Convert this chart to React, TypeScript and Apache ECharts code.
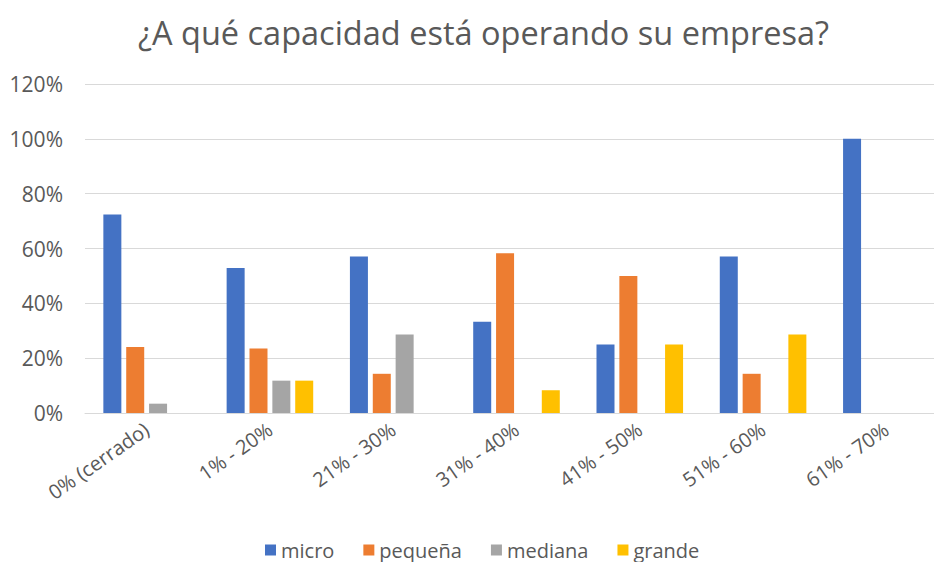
import React, { useEffect, useRef } from "react";
import * as echarts from "echarts";

const categories = ["0% (cerrado)", "1% - 20%", "21% - 30%", "31% - 40%", "41% - 50%", "51% - 60%", "61% - 70%"];
const seriesNames = ["micro", "pequeña", "mediana", "grande"];
const micro = [0.724, 0.529, 0.571, 0.333, 0.25, 0.571, 1.0];
const pequena = [0.241, 0.235, 0.143, 0.583, 0.5, 0.143, 0];
const mediana = [0.034, 0.118, 0.286, 0, 0, 0, 0];
const grande = [0, 0.118, 0, 0.083, 0.25, 0.286, 0];
const colors = ["#4472C4", "#ED7D31", "#A5A5A5", "#FFC000"];
const titleText = "¿A qué capacidad está operando su empresa?";

export default function App() {
  const ref = useRef<HTMLDivElement>(null);
  useEffect(() => {
    if (!ref.current) return;
    const chart = echarts.init(ref.current, null, { renderer: "svg" });
    const font = "'Open Sans', 'Noto Sans', sans-serif";
    const values = [micro, pequena, mediana, grande];
    chart.setOption({
      animation: false,
      backgroundColor: "#ffffff",
      color: colors,
      textStyle: { fontFamily: font },
      title: {
        text: titleText,
        left: 133,
        top: 11,
        textStyle: { fontFamily: font, fontSize: 32.5, fontWeight: "normal", color: "#595959" },
      },
      legend: {
        data: seriesNames,
        bottom: -3,
        left: 260,
        itemWidth: 11,
        itemHeight: 11,
        itemGap: 29,
        icon: "rect",
        textStyle: { fontFamily: font, fontSize: 20, color: "#595959" },
      },
      grid: { left: 85, top: 84, right: 0, height: 329, containLabel: false },
      xAxis: {
        type: "category",
        data: categories,
        axisTick: { show: false },
        axisLine: { lineStyle: { color: "#D9D9D9", width: 1 } },
        axisLabel: { interval: 0, rotate: 35, margin: 14, color: "#595959", fontSize: 20, fontFamily: font },
      },
      yAxis: {
        type: "value",
        min: 0,
        max: 1.2,
        interval: 0.2,
        axisLine: { show: false },
        axisTick: { show: false },
        splitLine: { lineStyle: { color: "#D9D9D9", width: 1 } },
        axisLabel: {
          margin: 22,
          color: "#595959",
          fontSize: 21,
          fontFamily: font,
          formatter: (v: number) => Math.round(v * 100) + "%",
        },
      },
      series: seriesNames.map((name, i) => ({
        name,
        type: "bar",
        data: values[i],
        barWidth: 18,
        barGap: "27%",
        itemStyle: { color: colors[i] },
      })),
    });
    return () => chart.dispose();
  }, []);
  return (
    <div style={{ position: "fixed", left: 0, top: 0, width: 934, height: 562, overflow: "hidden", background: "#fff" }}>
      <div ref={ref} style={{ width: 948, height: 562 }} />
    </div>
  );
}
